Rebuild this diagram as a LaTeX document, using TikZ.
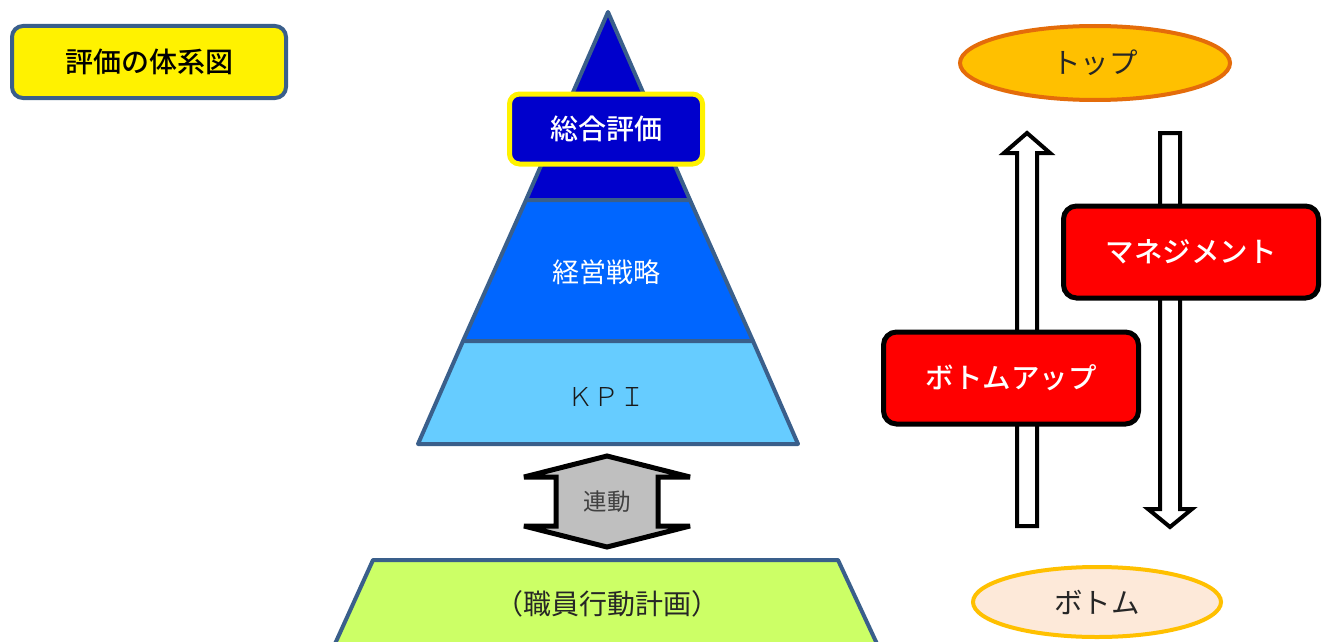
\documentclass[tikz,border=0pt]{standalone}
\usepackage{fontspec}
\usetikzlibrary{shapes.geometric}
\setmainfont{Noto Sans CJK JP}
\newfontfamily\jpmed{Noto Sans CJK JP}[UprightFont={* Medium}]
\newfontfamily\jplight{Noto Sans CJK JP}[UprightFont={* Light}]
\definecolor{edgeblue}{HTML}{3A5F8B}
\definecolor{topblue}{HTML}{0000CC}
\definecolor{midblue}{HTML}{0066FF}
\definecolor{kpiblue}{HTML}{66CCFF}
\definecolor{planlime}{HTML}{CCFF66}
\definecolor{topgold}{HTML}{FFC000}
\definecolor{toporange}{HTML}{E46C0A}
\definecolor{botpeach}{HTML}{FDE9D9}
\definecolor{arrgray}{HTML}{BFBFBF}
\tikzset{
  layer/.style={draw=edgeblue, line width=4pt, line join=round},
  redbox/.style={draw=black, fill=red, line width=5pt, rounded corners=13pt, minimum width=255pt, minimum height=92pt, text=white, font=\jpmed\fontsize{28.5}{32}\selectfont},
  hollowarrow/.style={draw=black, fill=white, line width=4pt, line join=miter, miter limit=3},
}
\begin{document}
\begin{tikzpicture}[x=1pt,y=-1pt]
\useasboundingbox (0,0) rectangle (1327,642);
% title
\node[draw=edgeblue, fill=yellow, line width=4pt, rounded corners=11pt, minimum width=274pt, minimum height=72pt, font=\jpmed\fontsize{28}{32}\selectfont, inner sep=0pt] (title) at (149,62) {評価の体系図};
% pyramid
\draw[layer, fill=topblue] (608,12) -- (690,200) -- (526,200) -- cycle;
\draw[layer, fill=midblue] (526,200) -- (690,200) -- (753,341) -- (463,341) -- cycle;
\draw[layer, fill=kpiblue] (463,341) -- (753,341) -- (798,444) -- (418,444) -- cycle;
\node[draw=yellow, fill=topblue, line width=5pt, rounded corners=10pt, minimum width=193pt, minimum height=70pt, text=white, font=\jpmed\fontsize{28}{32}\selectfont, inner sep=0pt] (sogo) at (606,129) {総合評価};
\node[font=\fontsize{27}{30}\selectfont, inner sep=0pt, text=white] (keiei) at (606,272) {経営戦略};
\node[font=\jplight\fontsize{26}{30}\selectfont, inner sep=0pt, text=black!90] (kpi) at (606,397) {ＫＰＩ};
% double arrow
\draw[draw=black, fill=arrgray, line width=5pt, line join=miter, miter limit=3]
  (607,456) -- (690,477) -- (658,477) -- (658,526) -- (690,526) -- (607,547) -- (524,526) -- (556,526) -- (556,477) -- (524,477) -- cycle;
\node[font=\fontsize{23.5}{26}\selectfont, text=black!75, inner sep=0pt] (rendo) at (607,502) {連動};
% bottom trapezoid
\draw[layer, fill=planlime] (373,560) -- (838,560) -- (878,646) -- (334,646) -- cycle;
\node[font=\fontsize{28}{32}\selectfont, inner sep=0pt, text=black!85] (plan) at (607,604) {（職員行動計画）};
% right side
\node[ellipse, draw=toporange, fill=topgold, line width=4pt, minimum width=270pt, minimum height=74pt, font=\fontsize{28.5}{32}\selectfont, text=black!85, inner sep=0pt] (top) at (1095,63) {トップ};
\node[ellipse, draw=topgold, fill=botpeach, line width=4pt, minimum width=248pt, minimum height=70pt, font=\fontsize{28.5}{32}\selectfont, text=black!85, inner sep=0pt] (bottom) at (1097,602) {ボトム};
\draw[hollowarrow] (1017,526) -- (1017,153) -- (1004,153) -- (1027,133) -- (1050,153) -- (1037,153) -- (1037,526) -- cycle;
\draw[hollowarrow] (1160,133) -- (1180,133) -- (1180,509) -- (1192,509) -- (1170,527) -- (1148,509) -- (1160,509) -- cycle;
\node[redbox] (mgmt) at (1191,252) {マネジメント};
\node[redbox] (bup) at (1011,378) {ボトムアップ};
\end{tikzpicture}
\end{document}
